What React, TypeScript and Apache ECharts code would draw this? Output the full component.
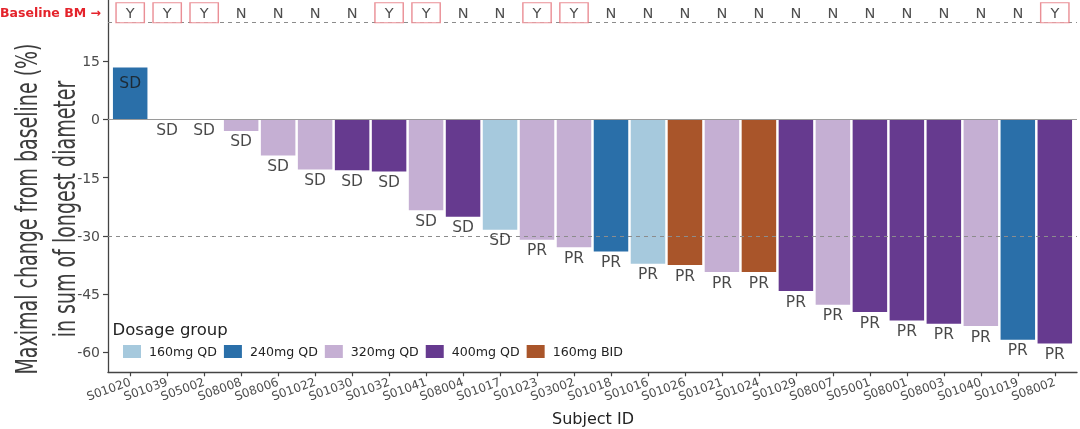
import React, { useEffect, useRef } from "react";
import * as echarts from "echarts";

const subjects = ["S01020","S01039","S05002","S08008","S08006","S01022","S01030","S01032","S01041","S08004","S01017","S01023","S03002","S01018","S01016","S01026","S01021","S01024","S01029","S08007","S05001","S08001","S08003","S01040","S01019","S08002"];
const changes = [13.3, 0, 0, -3.0, -9.3, -12.9, -13.1, -13.4, -23.4, -25.1, -28.4, -31.0, -32.9, -34.0, -37.2, -37.5, -39.3, -39.3, -44.2, -47.7, -49.6, -51.8, -52.6, -53.2, -56.7, -57.7];
const groups = ["240mg QD","320mg QD","320mg QD","320mg QD","320mg QD","320mg QD","400mg QD","400mg QD","320mg QD","400mg QD","160mg QD","320mg QD","320mg QD","240mg QD","160mg QD","160mg BID","320mg QD","160mg BID","400mg QD","320mg QD","400mg QD","400mg QD","400mg QD","320mg QD","240mg QD","400mg QD"];
const responses = ["SD","SD","SD","SD","SD","SD","SD","SD","SD","SD","SD","PR","PR","PR","PR","PR","PR","PR","PR","PR","PR","PR","PR","PR","PR","PR"];
const baselineBM = ["Y","Y","Y","N","N","N","N","Y","Y","N","N","Y","Y","N","N","N","N","N","N","N","N","N","N","N","N","Y"];
const groupNames = ["160mg QD","240mg QD","320mg QD","400mg QD","160mg BID"];
const groupColors = ["#a6c9dd","#2a6fa9","#c5afd3","#663a8f","#a9552a"];
const yTicks = [-60, -45, -30, -15, 0, 15];
const bmLevel = 27.4;
const bmLine = 25;
const refLine = -30;
const yTitle = "Maximal change from baseline (%)\nin sum of longest diameter";
const xTitle = "Subject ID";

export default function App() {
  const ref = useRef<HTMLDivElement>(null);
  useEffect(() => {
    const chart = echarts.init(ref.current!, null, { renderer: "svg" });
    const font = "DejaVu Sans";
    const idx = subjects.map((_, i) => i);
    const barSeries = groupNames.map((g, gi) => ({
      type: "bar",
      name: g,
      barWidth: 34.5,
      barGap: "-100%",
      z: 3,
      itemStyle: { color: groupColors[gi] },
      data: idx.filter((i) => groups[i] === g).map((i) => [i, changes[i]]),
    }));
    const option: any = {
      animation: false,
      textStyle: { fontFamily: font },
      grid: { left: 108, right: 3, top: 0, bottom: 56.7, containLabel: false, outerBoundsMode: "none" },
      xAxis: {
        type: "value",
        min: -0.6,
        max: 25.6,
        splitLine: { show: false },
        axisLine: { show: true, onZero: false, lineStyle: { color: "#444", width: 1.3 } },
        axisTick: { show: true, length: 4, customValues: idx, lineStyle: { color: "#444", width: 1.2 } },
        axisLabel: {
          customValues: idx,
          rotate: 20,
          margin: 9,
          fontSize: 12,
          color: "#4d4d4d",
          fontFamily: font,
          formatter: (v: number) => subjects[Math.round(v)] ?? "",
        },
      },
      yAxis: {
        type: "value",
        min: -65.1,
        max: 30.7,
        splitLine: { show: false },
        axisLine: { show: true, onZero: false, lineStyle: { color: "#444", width: 1.3 } },
        axisTick: { show: true, length: 5, customValues: yTicks, lineStyle: { color: "#444", width: 1.2 } },
        axisLabel: { customValues: yTicks, margin: 8, fontSize: 14, color: "#4d4d4d", fontFamily: font },
      },
      legend: {
        data: groupNames,
        left: 118,
        top: 340,
        icon: "rect",
        itemWidth: 18,
        itemHeight: 13,
        itemGap: 7,
        selectedMode: false,
        textStyle: { fontSize: 12.6, fontFamily: font, color: "#222", padding: [0, 0, 0, 3] },
      },
      graphic: [
        {
          type: "text",
          x: 0,
          y: 12.7,
          style: { text: "Baseline BM →", fontSize: 12.5, fontWeight: "bold", fontFamily: font, fill: "#e4232b", align: "left", verticalAlign: "middle" },
        },
        {
          type: "text",
          x: 112.5,
          y: 329,
          style: { text: "Dosage group", fontSize: 16.5, fontFamily: font, fill: "#222", align: "left", verticalAlign: "middle" },
        },
        {
          type: "text",
          x: 593,
          y: 418,
          style: { text: xTitle, fontSize: 16, fontFamily: font, fill: "#222", align: "center", verticalAlign: "middle" },
        },
        {
          type: "text",
          x: 45.5,
          y: 209,
          rotation: Math.PI / 2,
          scaleX: 0.645,
          style: { text: yTitle, fontSize: 29.5, lineHeight: 38, fontFamily: font, fill: "#3d3d3d", align: "center", verticalAlign: "middle" },
        },
      ],
      series: [
        ...barSeries,
        {
          type: "scatter",
          z: 5,
          silent: true,
          symbol: "circle",
          symbolSize: 1,
          itemStyle: { color: "transparent" },
          label: { show: true, position: "inside", offset: [0, 10.5], formatter: "{b}", fontSize: 15.5, fontFamily: font, color: "#1a1a1a" },
          data: idx.map((i) => ({
            name: responses[i],
            value: [i, changes[i]],
            label: changes[i] > 0 ? { offset: [0, 15] } : undefined,
          })),
          markLine: {
            silent: true,
            symbol: ["none", "none"],
            label: { show: false },
            lineStyle: { type: [4, 4], color: "#8c8c8c", width: 1 },
            data: [
              { yAxis: bmLine },
              { yAxis: refLine },
              { yAxis: 0, lineStyle: { type: "solid", color: "#9a9a9a", width: 1 } },
            ],
          },
        },
        {
          type: "scatter",
          z: 6,
          silent: true,
          symbol: "rect",
          symbolSize: [28.3, 20],
          label: { show: true, position: "inside", formatter: "{b}", fontSize: 14.5, fontFamily: font, color: "#222" },
          data: idx.map((i) => ({
            name: baselineBM[i],
            value: [i, bmLevel],
            itemStyle:
              baselineBM[i] === "Y"
                ? { color: "#fff", borderColor: "#e5737c", borderWidth: 1.2 }
                : { color: "transparent", borderWidth: 0 },
          })),
        },
      ],
    };
    chart.setOption(option);
    return () => chart.dispose();
  }, []);
  return <div ref={ref} style={{ position: "fixed", left: 0, top: 0, width: 1080, height: 429 }} />;
}
